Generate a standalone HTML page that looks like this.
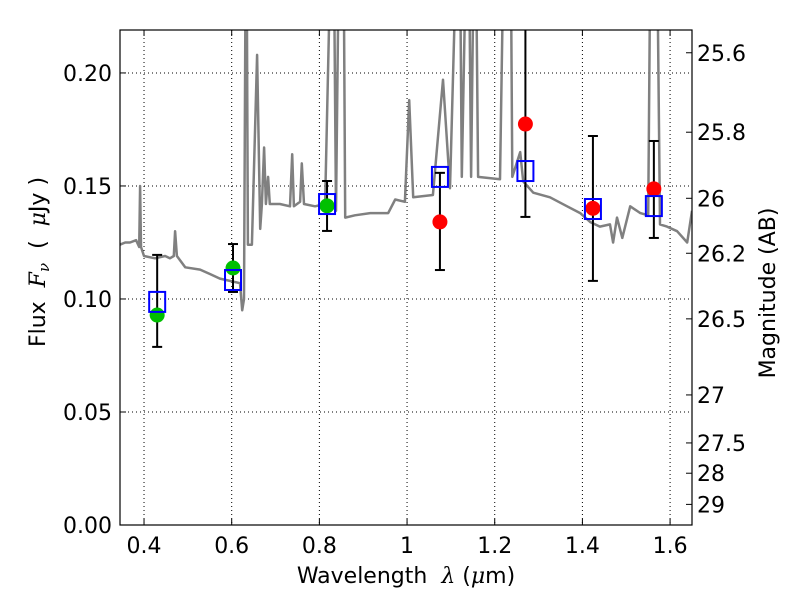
<!DOCTYPE html>
<html><head><meta charset="utf-8"><style>
body{margin:0;background:#fff;}
svg text{font-family:"DejaVu Sans","Liberation Sans",sans-serif;}
</style></head><body>
<svg id="chart" width="800" height="600" xmlns="http://www.w3.org/2000/svg">
<defs><clipPath id="clip"><rect x="120" y="30" width="572" height="495"/></clipPath></defs>
<g id="grid"></g>
<g id="spec" clip-path="url(#clip)"></g>
<g id="marks" clip-path="url(#clip)"></g>
<rect x="120" y="30" width="572" height="495" fill="none" stroke="#000" stroke-width="1.2"/>
<g id="axes"></g>
<text x="406" y="583" font-size="22" text-anchor="middle" xml:space="preserve">Wavelength  <tspan font-style="italic" font-family="DejaVu Serif,serif">λ</tspan> (<tspan font-style="italic" font-family="DejaVu Serif,serif">μ</tspan>m)</text>
<text transform="translate(45,262) rotate(-90)" font-size="22" text-anchor="middle" xml:space="preserve">Flux  <tspan font-style="italic" font-family="DejaVu Serif,serif">F</tspan><tspan font-style="italic" font-size="15" dy="4" font-family="DejaVu Serif,serif">ν</tspan><tspan dy="-4">  (  </tspan><tspan font-style="italic" font-family="DejaVu Serif,serif">μ</tspan>Jy )</text>
<text transform="translate(775,293) rotate(-90)" font-size="22" text-anchor="middle">Magnitude (AB)</text>
</svg>
<script>
const specLam=[0.345,0.357,0.368,0.382,0.389,0.391,0.393,0.400,0.425,0.448,0.459,0.468,0.471,0.475,0.494,0.528,0.551,0.573,0.596,0.619,0.624,0.628,0.633,0.637,0.646,0.658,0.665,0.669,0.674,0.678,0.683,0.687,0.710,0.733,0.738,0.742,0.756,0.760,0.765,0.790,0.813,0.831,0.838,0.847,0.854,0.859,0.881,0.916,0.957,0.973,0.995,1.005,1.014,1.059,1.082,1.098,1.119,1.125,1.139,1.146,1.155,1.162,1.212,1.224,1.235,1.240,1.258,1.265,1.288,1.326,1.365,1.395,1.418,1.440,1.463,1.470,1.479,1.491,1.509,1.532,1.550,1.557,1.568,1.577,1.593,1.616,1.639,1.650];
const specFlux=[0.124,0.125,0.125,0.126,0.123,0.150,0.123,0.119,0.118,0.119,0.118,0.119,0.130,0.119,0.114,0.113,0.111,0.109,0.108,0.107,0.095,0.100,0.30,0.124,0.124,0.208,0.131,0.142,0.167,0.142,0.154,0.142,0.142,0.141,0.164,0.141,0.143,0.160,0.142,0.141,0.142,0.30,0.139,0.30,0.30,0.136,0.137,0.138,0.138,0.144,0.143,0.188,0.145,0.146,0.197,0.149,0.30,0.154,0.30,0.154,0.30,0.154,0.153,0.30,0.30,0.154,0.165,0.152,0.147,0.145,0.141,0.138,0.134,0.132,0.133,0.125,0.136,0.127,0.141,0.138,0.137,0.30,0.30,0.133,0.132,0.130,0.125,0.139];
const bandLam=[0.43,0.603,0.8175,1.075,1.27,1.424,1.563];
const obsFlux=[0.0929,0.1137,0.1412,0.1341,0.1774,0.1401,0.1487];
const obsColor=['green','green','green','red','red','red','red'];
const errLo=[0.0788,0.1031,0.1301,0.1128,0.1363,0.1080,0.1270];
const errHi=[0.1195,0.1243,0.1522,0.1558,0.2300,0.1721,0.1699];
const modelFlux=[0.0987,0.1084,0.1420,0.1540,0.1566,0.1398,0.1411];
const xTicks=[0.4,0.6,0.8,1.0,1.2,1.4,1.6];
const xTickLabels=['0.4','0.6','0.8','1','1.2','1.4','1.6'];
const yTicks=[0,0.05,0.10,0.15,0.20];
const yTickLabels=['0.00','0.05','0.10','0.15','0.20'];
const magTicks=[25.6,25.8,26,26.2,26.5,27,27.5,28,29];
const magLabels=['25.6','25.8','26','26.2','26.5','27','27.5','28','29'];

const X0=120,X1=692,Y0=525,Y1=30,XMIN=0.3452,XMAX=1.650,YMIN=0,YMAX=0.219;
const sx=v=>X0+(v-XMIN)/(XMAX-XMIN)*(X1-X0);
const sy=v=>Y0-(v-YMIN)/(YMAX-YMIN)*(Y0-Y1);
const NS='http://www.w3.org/2000/svg';
function mk(tag,attrs,parent){const e=document.createElementNS(NS,tag);for(const k in attrs)e.setAttribute(k,attrs[k]);parent.appendChild(e);return e;}
const grid=document.getElementById('grid'),axes=document.getElementById('axes'),spec=document.getElementById('spec'),marks=document.getElementById('marks');

xTicks.forEach((t,i)=>{const x=sx(t);
 const g=mk('line',{x1:x,x2:x,y1:Y1,y2:Y0,stroke:'#000','stroke-width':1,'stroke-dasharray':'1,3'},grid);
 
 
 mk('line',{x1:x,x2:x,y1:Y0,y2:Y0-6,stroke:'#000'},axes);
 mk('line',{x1:x,x2:x,y1:Y1,y2:Y1+6,stroke:'#000'},axes);
 const tx=mk('text',{x:x,y:553,'font-size':22,'text-anchor':'middle'},axes);tx.textContent=xTickLabels[i];
 
 
});
yTicks.forEach((t,i)=>{const y=sy(t);
 if(t>0){const g=mk('line',{x1:X0,x2:X1,y1:y,y2:y,stroke:'#000','stroke-width':1,'stroke-dasharray':'1,3'},grid);
 
 }
 mk('line',{x1:X0,x2:X0+6,y1:y,y2:y,stroke:'#000'},axes);
 const tx=mk('text',{x:112,y:y+8,'font-size':22,'text-anchor':'end'},axes);tx.textContent=yTickLabels[i];
 
 
});
magTicks.forEach((m,i)=>{const y=sy(Math.pow(10,(23.9-m)/2.5));
 mk('line',{x1:X1,x2:X1-6,y1:y,y2:y,stroke:'#000'},axes);
 const tx=mk('text',{x:697,y:y+8,'font-size':22},axes);tx.textContent=magLabels[i];
 
 
});
const pts=specLam.map((l,i)=>sx(l).toFixed(1)+','+sy(specFlux[i]).toFixed(1)).join(' ');
const pl=mk('polyline',{points:pts,fill:'none',stroke:'#808080','stroke-width':2.5,'stroke-linejoin':'round'},spec);


bandLam.forEach((l,i)=>{const x=sx(l);
 const e=mk('g',{},marks);
 
 
 mk('line',{x1:x,x2:x,y1:sy(errLo[i]),y2:sy(errHi[i]),stroke:'#000','stroke-width':2},e);
 mk('line',{x1:x-5,x2:x+5,y1:sy(errLo[i]),y2:sy(errLo[i]),stroke:'#000','stroke-width':2},e);
 mk('line',{x1:x-5,x2:x+5,y1:sy(errHi[i]),y2:sy(errHi[i]),stroke:'#000','stroke-width':2},e);
});
bandLam.forEach((l,i)=>{const x=sx(l);
 const c=mk('circle',{cx:x,cy:sy(obsFlux[i]),r:7.5,fill:obsColor[i]==='green'?'#00c000':'#ff0000'},marks);
 
 
});
bandLam.forEach((l,i)=>{const x=sx(l);
 const r=mk('rect',{x:x-8,y:sy(modelFlux[i])-10,width:16,height:20,fill:'none',stroke:'#0000ff','stroke-width':2},marks);
 
 
});
</script>
</body></html>
